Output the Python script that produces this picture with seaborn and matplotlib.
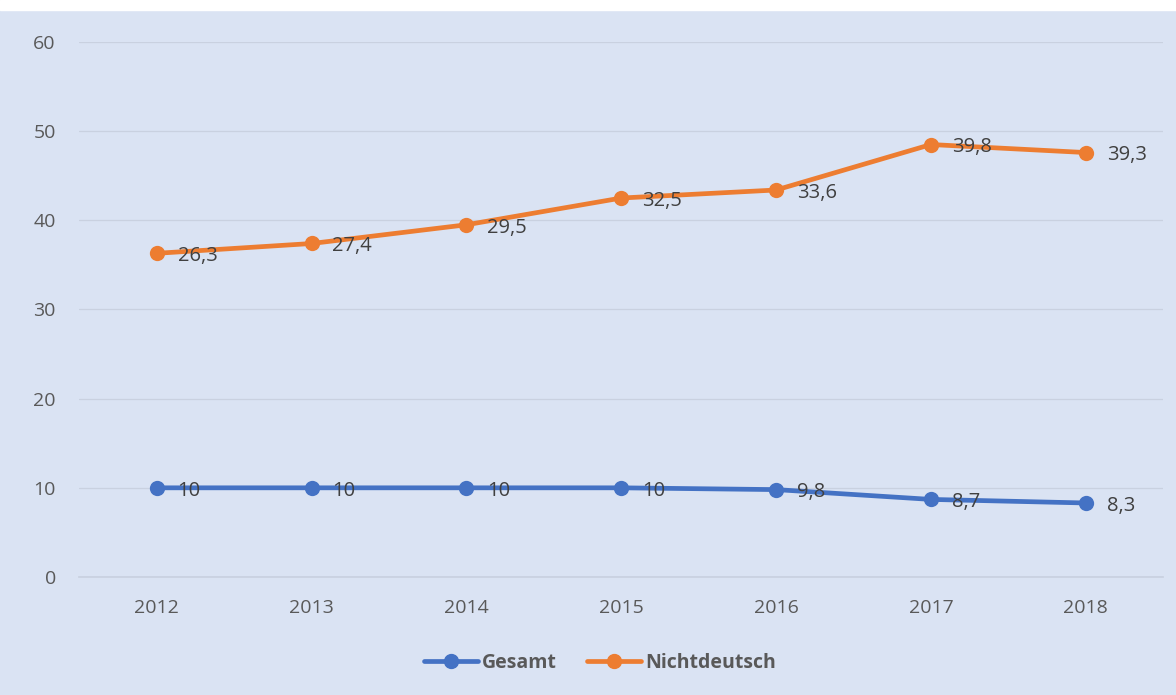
import matplotlib
matplotlib.use("Agg")
import matplotlib.pyplot as plt
import seaborn as sns
import pandas as pd
import numpy as np
from matplotlib.lines import Line2D

years = ["2012", "2013", "2014", "2015", "2016", "2017", "2018"]
gesamt = [10, 10, 10, 10, 9.8, 8.7, 8.3]
nichtdeutsch = [26.3, 27.4, 29.5, 32.5, 33.6, 39.8, 39.3]
series_names = ["Gesamt", "Nichtdeutsch"]
colors = ["#4472C4", "#ED7D31"]
yticks = [0, 10, 20, 30, 40, 50, 60]

bg = "#DAE3F3"
txt = "#595959"

sns.set_theme(style="white")
plt.rcParams["font.family"] = ["Open Sans", "DejaVu Sans"]

# Excel stacked line chart: second series plotted on top of first
stacked_n = list(np.array(gesamt) + np.array(nichtdeutsch))
df = pd.DataFrame({
    "Jahr": years * 2,
    "Wert": gesamt + stacked_n,
    "Label": gesamt + nichtdeutsch,
    "Serie": [series_names[0]] * len(years) + [series_names[1]] * len(years),
})

fig = plt.figure(figsize=(11.76, 6.95), dpi=100, facecolor=bg)
ax = fig.add_axes([0.0675, 0.1698, 0.9216, 0.7698])
ax.set_facecolor(bg)

sns.lineplot(data=df, x="Jahr", y="Wert", hue="Serie", palette=colors,
             marker="o", markersize=11, markeredgewidth=0, linewidth=3.4,
             ax=ax, legend=False, sort=False)

ax.set_xlim(-0.5, len(years) - 0.5)
ax.set_ylim(0, 60)
ax.set_yticks(yticks)
ax.set_yticklabels([str(t) for t in yticks])
ax.yaxis.grid(True, color="#C9D1E0", linewidth=0.9)
ax.set_axisbelow(True)
for s in ax.spines.values():
    s.set_visible(False)
ax.spines["bottom"].set_visible(True)
ax.spines["bottom"].set_color("#C9D1E0")
ax.tick_params(axis="both", length=0, labelsize=14, labelcolor=txt)
ax.tick_params(axis="x", pad=16)
ax.tick_params(axis="y", pad=17)
ax.set_xlabel("")
ax.set_ylabel("")

for i, row in df.iterrows():
    xi = years.index(row["Jahr"])
    lab = ("%g" % row["Label"]).replace(".", ",")
    ax.annotate(lab, (xi, row["Wert"]), xytext=(15, -2), textcoords="offset points",
                ha="left", va="center", fontsize=14.5, color="#404040")

handles = [Line2D([0], [0], color=c, linewidth=3.4, marker="o", markersize=10) for c in colors]
leg = fig.legend(handles, series_names, loc="center", bbox_to_anchor=(0.51, 0.046),
                 ncol=2, frameon=False, handlelength=2.8, handletextpad=0.2,
                 columnspacing=1.55, prop={"weight": "bold", "size": 14})
for t in leg.get_texts():
    t.set_color(txt)

# white strip at top like the source image
fig.patches.append(plt.Rectangle((0, 0.985), 1, 0.015, transform=fig.transFigure,
                                 color="white", zorder=-1))

fig.savefig("out.png", dpi=100, facecolor=bg)
